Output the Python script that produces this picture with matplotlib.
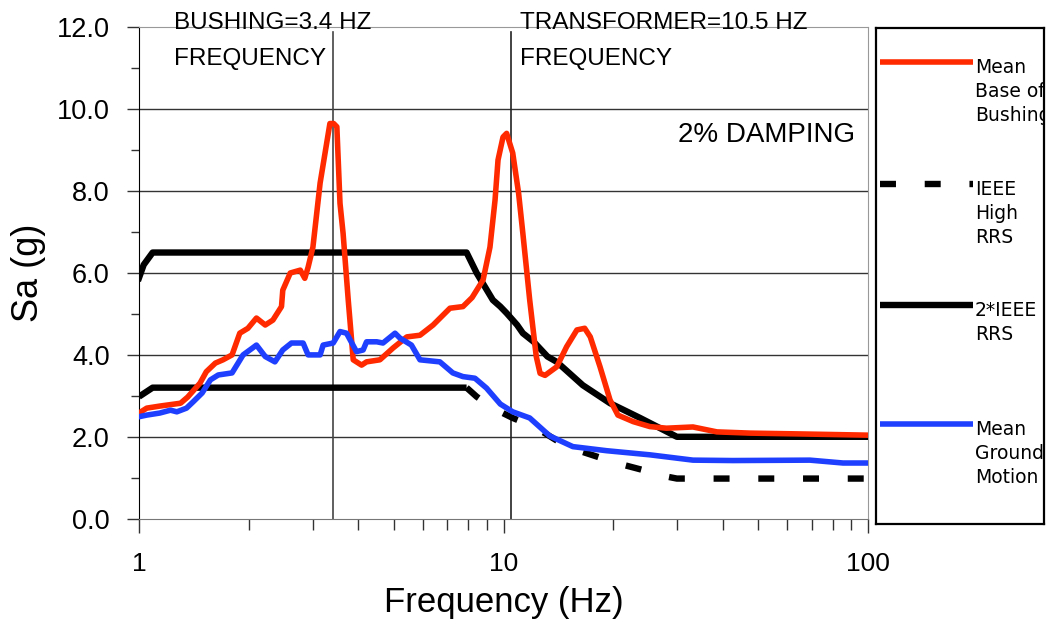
import numpy as np
import matplotlib
matplotlib.use('Agg')
import matplotlib.pyplot as plt
from matplotlib.ticker import FixedLocator, NullFormatter, LogLocator

plt.rcParams['font.family'] = ['Liberation Sans', 'DejaVu Sans']

# mean base of bushing (red)
bush_f = [1.0, 1.05, 1.14, 1.30, 1.36, 1.47, 1.53, 1.62, 1.70, 1.80,
          1.89, 1.99, 2.10, 2.22, 2.33, 2.46, 2.48, 2.60, 2.77, 2.85,
          2.91, 3.00, 3.14, 3.34, 3.42, 3.49, 3.56, 3.63, 3.75, 3.79,
          3.87, 4.08, 4.21, 4.58, 4.98, 5.43, 5.90, 6.41, 7.13, 7.74,
          8.2, 8.79, 9.18, 9.48, 9.66, 9.97, 10.2, 10.6, 11.0, 11.3,
          11.8, 12.3, 12.6, 13.0, 14.0, 14.9, 15.9, 16.7, 17.3, 18.4,
          19.6, 20.6, 22.7, 25.2, 28.0, 33.1, 38.5, 47.5, 65.1, 100]
bush_sa = [2.58, 2.70, 2.75, 2.82, 2.97, 3.31, 3.59, 3.80, 3.88, 4.00,
           4.53, 4.65, 4.90, 4.73, 4.85, 5.18, 5.58, 6.00, 6.07, 5.87,
           6.14, 6.63, 8.20, 9.65, 9.65, 9.57, 7.70, 6.97, 5.34, 4.85,
           3.88, 3.75, 3.83, 3.88, 4.17, 4.44, 4.48, 4.73, 5.14, 5.18,
           5.40, 5.83, 6.63, 7.78, 8.76, 9.32, 9.41, 8.93, 7.95, 6.97,
           5.34, 3.96, 3.55, 3.50, 3.71, 4.20, 4.61, 4.65, 4.44, 3.71,
           2.90, 2.53, 2.37, 2.25, 2.21, 2.24, 2.12, 2.09, 2.07, 2.04]

# mean ground motion (blue)
gm_f = [1.0, 1.05, 1.14, 1.22, 1.27, 1.35, 1.41, 1.49, 1.57, 1.65,
        1.80, 1.87, 1.93, 2.05, 2.10, 2.22, 2.36, 2.48, 2.62, 2.82,
        2.91, 3.14, 3.20, 3.41, 3.56, 3.71, 3.95, 4.12, 4.21, 4.49,
        4.67, 5.04, 5.20, 5.59, 5.90, 6.69, 7.26, 7.74, 8.35, 8.98,
        9.80, 10.6, 11.8, 13.4, 15.5, 19.2, 25.2, 33.1, 42.6, 69.3,
        85.4, 100]
gm_sa = [2.49, 2.53, 2.58, 2.65, 2.61, 2.70, 2.86, 3.07, 3.39, 3.51,
         3.56, 3.80, 4.00, 4.17, 4.24, 3.96, 3.83, 4.12, 4.29, 4.29,
         4.00, 4.00, 4.24, 4.29, 4.57, 4.53, 4.08, 4.12, 4.32, 4.32,
         4.29, 4.53, 4.41, 4.24, 3.88, 3.83, 3.56, 3.47, 3.43, 3.19,
         2.80, 2.61, 2.46, 2.02, 1.76, 1.66, 1.56, 1.43, 1.42, 1.43,
         1.36, 1.36]

# 2*IEEE RRS
ieee2_f = [1.0, 1.03, 1.09, 7.92, 8.44, 9.35, 9.80, 10.2, 10.9, 11.3,
           12.1, 13.2, 14.0, 16.5, 19.6, 23.7, 26.9, 29.9, 100]
ieee2_sa = [5.88, 6.20, 6.50, 6.50, 6.00, 5.34, 5.18, 5.02, 4.73, 4.53,
            4.32, 3.96, 3.83, 3.26, 2.82, 2.46, 2.21, 2.00, 2.00]

# IEEE high RRS
ieee_f = [1.0, 1.09, 7.92, 8.44, 9.35, 9.80, 10.6, 12.1, 13.2, 14.9,
          20.4, 24.1, 28.0, 29.9, 100]
ieee_sa = [2.98, 3.20, 3.20, 2.98, 2.70, 2.61, 2.46, 2.25, 2.05, 1.76,
           1.36, 1.19, 1.03, 0.98, 0.98]

bushing_freq = 3.4
transformer_freq = 10.5

labels = ['Mean\nBase of\nBushing', 'IEEE\nHigh\nRRS', '2*IEEE\nRRS', 'Mean\nGround\nMotion']

red = '#ff2a00'
blue = '#1f3fff'
lw_c = 4.0
lw_k = 4.6

fig = plt.figure(figsize=(10.57, 6.25), dpi=100)
ax = fig.add_axes([139/1057, 1-518.7/625, 729/1057, 491.4/625])

ax.set_xscale('log')
ax.set_xlim(1, 100)
ax.set_ylim(0, 12)

for yy in [2, 4, 6, 8, 10]:
    ax.axhline(yy, color='#333333', lw=1.0, zorder=1)
ax.axvline(bushing_freq, ymax=0.99, color='#444444', lw=1.2, zorder=1)
ax.axvline(transformer_freq, ymax=0.99, color='#222222', lw=1.2, zorder=1)

dash = (2.5, 4.5)
ax.plot(ieee_f[:3], ieee_sa[:3], color='black', lw=lw_k, solid_capstyle='butt', zorder=3)
ax.plot(ieee_f[2:], ieee_sa[2:], color='black', lw=lw_k, dashes=dash,
        dash_capstyle='butt', zorder=3)
ax.plot(ieee2_f, ieee2_sa, color='black', lw=lw_k, zorder=3)
ax.plot(bush_f, bush_sa, color=red, lw=lw_c, zorder=4)
ax.plot(gm_f, gm_sa, color=blue, lw=lw_c, zorder=5)

ax.xaxis.set_major_locator(FixedLocator([1, 10, 100]))
ax.set_xticklabels(['1', '10', '100'])
ax.xaxis.set_minor_locator(LogLocator(base=10, subs=np.arange(2, 10)))
ax.xaxis.set_minor_formatter(NullFormatter())
ax.set_yticks(np.arange(0, 13, 2))
ax.set_yticklabels(['%.1f' % v for v in np.arange(0, 13, 2)])
ax.set_yticks(np.arange(1, 12, 2), minor=True)

ax.tick_params(axis='x', which='major', length=10, width=1, color='#333333',
               labelsize=19, pad=14)
ax.tick_params(axis='x', which='minor', length=8, width=1, color='#333333')
ax.tick_params(axis='y', which='major', length=9, width=1, color='#333333',
               labelsize=19.5, pad=12)
ax.tick_params(axis='y', which='minor', length=6, width=1, color='#333333')

ax.spines['left'].set_color('black')
ax.spines['bottom'].set_color('#777777')
ax.spines['top'].set_color('#999999')
ax.spines['right'].set_color('#999999')

ax.set_xlabel('Frequency (Hz)', fontsize=25, labelpad=7)
ax.set_ylabel('Sa (g)', fontsize=26, labelpad=8)

fig.text(174/1057, 1-29.3/625, 'BUSHING=3.4 HZ', fontsize=17.5, va='baseline')
fig.text(174/1057, 1-65/625, 'FREQUENCY', fontsize=17.5, va='baseline')
fig.text(520/1057, 1-29.3/625, 'TRANSFORMER=10.5 HZ', fontsize=17.5, va='baseline')
fig.text(520/1057, 1-65/625, 'FREQUENCY', fontsize=17.5, va='baseline')
fig.text(678/1057, 1-141.7/625, '2% DAMPING', fontsize=20, va='baseline')

# legend box
lg = fig.add_axes([876/1057, 1-524/625, 168/1057, 496/625])
lg.set_xlim(0, 168)
lg.set_ylim(496, 0)
lg.set_xticks([])
lg.set_yticks([])
for s in lg.spines.values():
    s.set_linewidth(1.6)
    s.set_color('black')

entry_y = [34, 156, 277, 396]
styles = [dict(color=red, lw=lw_c), dict(color='black', lw=lw_k, dashes=dash, dash_capstyle='butt'),
          dict(color='black', lw=lw_k), dict(color=blue, lw=lw_c)]
for y0, lab, st in zip(entry_y, labels, styles):
    lg.plot([4, 97], [y0, y0], solid_capstyle='butt', **st)
    for i, line in enumerate(lab.split('\n')):
        lg.text(99, y0 + 11 + 24*i, line, fontsize=13.5, family='DejaVu Sans',
                va='baseline', ha='left', clip_on=True)

fig.savefig('out.png', dpi=100)
